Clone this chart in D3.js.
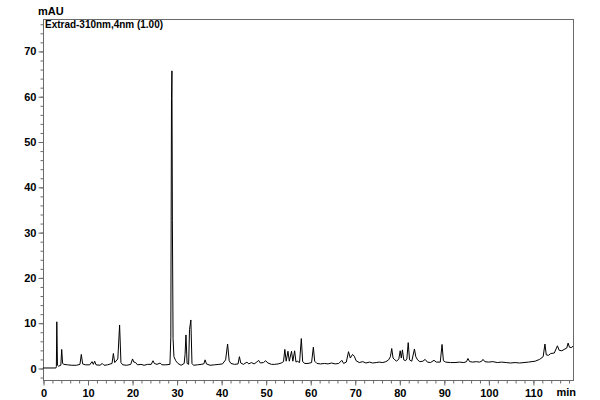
<!DOCTYPE html>
<html>
<head>
<meta charset="utf-8">
<script src="https://cdn.jsdelivr.net/npm/d3@7"></script>
<style>
  body { margin: 0; background: #fff; }
  text { font-family: "Liberation Sans", Arial, sans-serif; font-weight: bold; fill: #000; }
</style>
</head>
<body>
<div id="chart"></div>
<script>
var width = 600;
var height = 400;

// chromatogram trace, [retention time (min), signal (mAU)]
var trace = [
	[0, 0.0], [2.9, 0.0], [3.0, 0.3], [3.1, 10.2], [3.25, 0.6], [3.5, 0.4], [4.0, 0.6], [4.2, 4.1], [4.4, 1.0],
	[4.7, 0.8], [5.5, 0.7], [6.5, 0.6], [7.5, 0.6], [8.3, 0.8], [8.6, 3.0], [8.9, 0.9], [9.5, 0.7], [10.5, 0.7],
	[11.0, 1.4], [11.3, 0.8], [11.6, 1.5], [11.9, 0.7], [12.8, 0.6], [13.3, 1.0], [13.7, 0.6], [14.5, 0.7],
	[15.5, 1.0], [15.8, 3.2], [16.1, 1.2], [16.8, 2.0], [17.2, 9.5], [17.5, 1.2], [17.9, 0.7], [18.8, 0.6],
	[19.7, 0.8], [20.1, 2.0], [20.4, 1.3], [20.8, 1.2], [21.2, 0.7], [22.0, 0.8], [22.7, 0.6], [23.5, 0.8],
	[24.3, 0.8], [24.7, 1.6], [25.0, 1.0], [25.6, 0.8], [26.3, 1.1], [26.7, 0.7], [27.6, 0.7], [28.5, 0.8],
	[28.7, 6.8], [28.85, 59.5], [28.95, 65.6], [29.05, 32.5], [29.2, 6.5], [29.4, 2.5], [29.8, 1.6], [30.3, 1.0],
	[31.0, 0.6], [31.7, 1.0], [31.9, 3.0], [32.1, 7.3], [32.35, 1.0], [32.7, 0.8], [32.9, 8.5], [33.2, 10.6],
	[33.45, 1.0], [33.8, 0.6], [34.7, 0.7], [35.5, 0.8], [36.1, 0.9], [36.4, 1.8], [36.7, 0.9], [37.5, 0.6],
	[38.5, 0.7], [39.5, 0.8], [40.3, 0.9], [41.0, 1.8], [41.45, 5.3], [41.8, 1.6], [42.2, 1.0], [43.0, 0.8],
	[43.8, 0.9], [44.1, 2.5], [44.4, 1.1], [45.0, 0.8], [45.8, 1.3], [46.2, 0.9], [46.8, 1.2], [47.4, 0.9],
	[48.0, 1.3], [48.4, 1.7], [48.8, 1.1], [49.5, 1.2], [50.0, 1.6], [50.5, 1.1], [51.3, 0.8], [52.0, 0.8],
	[52.8, 0.9], [53.5, 1.1], [54.0, 1.4], [54.3, 4.1], [54.6, 1.5], [55.0, 3.7], [55.3, 1.5], [55.8, 3.7],
	[56.1, 1.5], [56.5, 3.8], [56.8, 1.3], [57.1, 1.5], [57.6, 1.2], [58.0, 6.5], [58.3, 1.4], [58.8, 1.0],
	[59.5, 1.0], [60.3, 1.2], [60.7, 4.6], [61.0, 1.5], [61.5, 1.0], [62.3, 0.9], [63.2, 1.0], [64.0, 0.9],
	[64.8, 1.1], [65.6, 0.9], [66.4, 1.0], [67.1, 1.7], [67.5, 1.0], [68.1, 1.3], [68.6, 3.6], [69.0, 2.2],
	[69.5, 3.0], [69.9, 2.6], [70.3, 1.6], [71.0, 1.2], [71.8, 1.4], [72.5, 1.1], [73.3, 1.3], [74.0, 1.1],
	[74.8, 1.2], [75.5, 1.3], [76.3, 1.2], [77.0, 1.4], [77.6, 1.8], [78.0, 2.5], [78.3, 4.3], [78.6, 2.2],
	[79.0, 1.8], [79.4, 1.5], [79.9, 2.0], [80.2, 3.8], [80.45, 2.2], [80.7, 4.0], [81.0, 1.8], [81.4, 1.6],
	[81.7, 2.0], [82.0, 5.6], [82.3, 1.8], [82.8, 1.5], [83.4, 4.2], [83.7, 2.5], [84.1, 1.8], [84.6, 1.4],
	[85.3, 1.5], [85.8, 1.9], [86.3, 1.3], [87.0, 1.2], [87.8, 1.7], [88.3, 1.3], [89.2, 1.3], [89.6, 5.2],
	[89.9, 1.6], [90.4, 1.3], [91.5, 1.2], [92.5, 1.2], [93.5, 1.3], [94.5, 1.2], [95.1, 1.4], [95.4, 2.1],
	[95.8, 1.4], [96.5, 1.3], [97.3, 1.4], [98.0, 1.3], [98.5, 1.5], [98.8, 1.9], [99.2, 1.4], [100, 1.3],
	[101, 1.4], [102, 1.2], [103, 1.3], [104, 1.2], [105, 1.1], [106, 1.2], [107, 1.1], [108, 1.2], [109, 1.3],
	[110.5, 1.5], [111.5, 1.9], [112.3, 2.5], [112.7, 5.3], [113.0, 2.9], [113.5, 2.8], [114.0, 3.2],
	[114.8, 3.3], [115.5, 4.9], [115.9, 3.9], [116.5, 3.8], [117.2, 4.2], [117.6, 4.4], [117.9, 5.5],
	[118.2, 4.6], [118.6, 4.5], [119.0, 4.8]
];

var xMajorTicks = [0, 10, 20, 30, 40, 50, 60, 70, 80, 90, 100, 110];
var yMajorTicks = [0, 10, 20, 30, 40, 50, 60, 70];
var yUnit = "mAU";
var xUnit = "min";
var traceLabel = "Extrad-310nm,4nm (1.00)";

var margin = { top: 19, right: 27, bottom: 20, left: 43 };

var svg = d3.select("#chart").append("svg")
	.attr("width", width)
	.attr("height", height);

var x = d3.scaleLinear()
	.domain([0, 119.0])
	.range([margin.left, width - margin.right]);

var y = d3.scaleLinear()
	.domain([-2.65, 77.05])
	.range([height - margin.bottom, margin.top]);

var axisColor = "#6a6a6a";

// frame
svg.append("rect")
	.attr("x", x.range()[0] + 0.5)
	.attr("y", y.range()[1] + 0.5)
	.attr("width", x.range()[1] - x.range()[0])
	.attr("height", y.range()[0] - y.range()[1])
	.attr("fill", "none")
	.attr("stroke", axisColor);

// minor ticks every 2 units
var xMinor = d3.range(0, 119.01, 2);
var yMinor = d3.range(-2, 77, 2);

var xAxis = svg.append("g")
	.attr("transform", "translate(0.5," + (y.range()[0] + 0.5) + ")");
xAxis.call(d3.axisBottom(x).tickValues(xMinor).tickSize(3).tickFormat(""));
xAxis.append("g").call(d3.axisBottom(x).tickValues(xMajorTicks).tickSize(5).tickPadding(4).tickFormat(d3.format("d")));
xAxis.selectAll("path.domain").remove();
xAxis.selectAll("line").attr("stroke", axisColor);
xAxis.selectAll("text").attr("font-size", 11).attr("font-family", null).attr("fill", "#000");

var yAxis = svg.append("g")
	.attr("transform", "translate(" + (x.range()[0] + 0.5) + ",0.5)");
yAxis.call(d3.axisLeft(y).tickValues(yMinor).tickSize(3).tickFormat(""));
yAxis.append("g").call(d3.axisLeft(y).tickValues(yMajorTicks).tickSize(5).tickPadding(2).tickFormat(d3.format("d")));
yAxis.selectAll("path.domain").remove();
yAxis.selectAll("line").attr("stroke", axisColor);
yAxis.selectAll("text").attr("font-size", 11).attr("font-family", null).attr("fill", "#000");

// trace
var line = d3.line()
	.x(function(d) { return x(d[0]); })
	.y(function(d) { return y(d[1]); });

svg.append("path")
	.datum(trace)
	.attr("d", line)
	.attr("fill", "none")
	.attr("stroke", "#000")
	.attr("stroke-width", 1);

// labels
svg.append("text")
	.attr("x", 38)
	.attr("y", 15)
	.attr("font-size", 11)
	.text(yUnit);

svg.append("text")
	.attr("x", 45)
	.attr("y", 28)
	.attr("font-size", 11)
	.attr("textLength", 118)
	.attr("lengthAdjust", "spacingAndGlyphs")
	.text(traceLabel);

svg.append("text")
	.attr("x", 576)
	.attr("y", 396)
	.attr("font-size", 11)
	.attr("text-anchor", "end")
	.text(xUnit);
</script>
</body>
</html>
